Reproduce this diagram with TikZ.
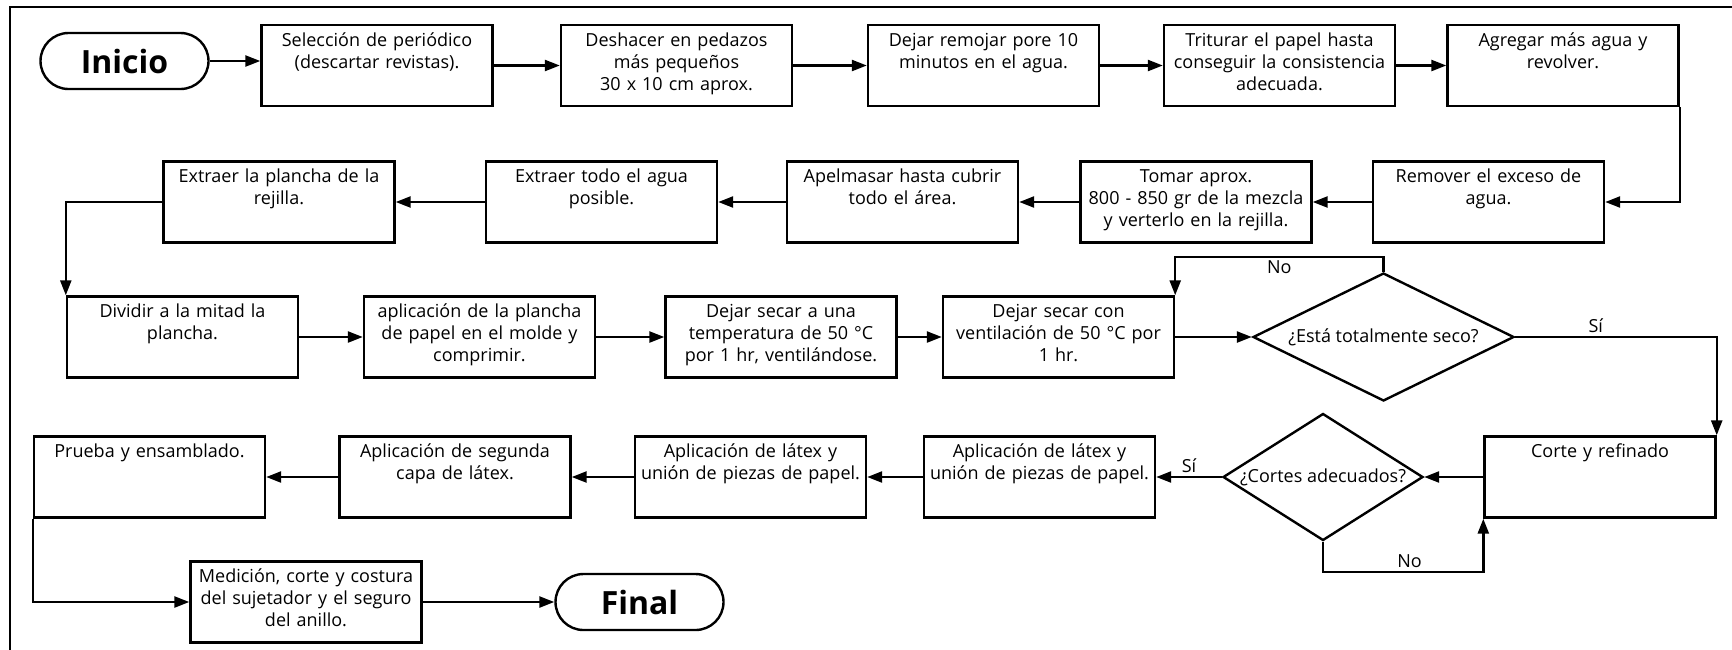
\documentclass[tikz,border=0pt]{standalone}
\usepackage{fontspec}
\setmainfont{Open Sans}
\usetikzlibrary{arrows.meta,shapes.geometric}

\begin{document}
\begin{tikzpicture}[x=0.5pt,y=-0.5pt]
\tikzset{every node/.style={font=\fontsize{9}{11}\selectfont}}
\tikzset{paso/.style={draw,line width=1.2pt,minimum width=115.5pt,text width=115.5pt,align=center,inner xsep=0pt,inner ysep=2pt,text height=8.5pt,text depth=28pt}}
\tikzset{decision/.style={draw,diamond,line width=1.2pt,inner sep=0pt}}
\tikzset{extremo/.style={draw,line width=1.2pt,rounded corners=14pt,minimum width=84pt,minimum height=28pt,font=\fontsize{16}{19}\selectfont\bfseries}}
\tikzset{flecha/.style={line width=1.2pt,-{Triangle[length=7.5pt,width=5.5pt]}}}
\tikzset{etiqueta/.style={inner sep=1.5pt}}

\useasboundingbox (0,0) rectangle (1732,649);
\draw[line width=1.2pt] (10,7) rectangle (1760,680);

\node[extremo] (ini) at (124.5,61) {Inicio};
\node[paso] (b1) at (377,65.5) {Selección de periódico\\(descartar revistas).};
\node[paso] (b2) at (676.5,65.5) {Deshacer en pedazos\\más pequeños\\30 x 10 cm aprox.};
\node[paso] (b3) at (983.5,65.5) {Dejar remojar pore 10\\minutos en el agua.};
\node[paso] (b4) at (1279.5,65.5) {Triturar el papel hasta\\conseguir la consistencia\\adecuada.};
\node[paso] (b5) at (1563,65.5) {Agregar más agua y\\revolver.};

\node[paso] (rem) at (1488.5,202) {Remover el exceso de\\agua.};
\node[paso] (tom) at (1196,202) {Tomar aprox.\\800 - 850 gr de la mezcla\\y verterlo en la rejilla.};
\node[paso] (apel) at (902.5,202) {Apelmasar hasta cubrir\\todo el área.};
\node[paso] (ext2) at (601.5,202) {Extraer todo el agua\\posible.};
\node[paso] (ext1) at (279,202) {Extraer la plancha de la\\rejilla.};

\node[paso] (div) at (182.5,337) {Dividir a la mitad la\\plancha.};
\node[paso] (apl) at (479.5,337) {aplicación de la plancha\\de papel en el molde y\\comprimir.};
\node[paso] (sec1) at (781,337) {Dejar secar a una\\temperatura de 50 °C\\por 1 hr, ventilándose.};
\node[paso] (sec2) at (1058.5,337) {Dejar secar con\\ventilación de 50 °C por\\1 hr.};
\node[decision,minimum width=130.5pt,minimum height=64pt] (d1) at (1383.5,337) {\makebox[0pt]{¿Está totalmente seco?}};

\node[paso] (cor) at (1600,477) {Corte y refinado};
\node[decision,minimum width=100pt,minimum height=63.5pt] (d2) at (1323,477) {\makebox[0pt]{¿Cortes adecuados?}};
\node[paso] (lat2) at (1039.5,477) {Aplicación de látex y\\unión de piezas de papel.};
\node[paso] (lat1) at (750.5,477) {Aplicación de látex y\\unión de piezas de papel.};
\node[paso] (seg) at (455,477) {Aplicación de segunda\\capa de látex.};
\node[paso] (pru) at (149.5,477) {Prueba y ensamblado.};

\node[paso] (med) at (306,602) {Medición, corte y costura\\del sujetador y el seguro\\del anillo.};
\node[extremo] (fin) at (639.5,602) {Final};

\draw[flecha] (ini.east) -- (ini.east -| b1.west);
\draw[flecha] (b1.east) -- (b2.west);
\draw[flecha] (b2.east) -- (b3.west);
\draw[flecha] (b3.east) -- (b4.west);
\draw[flecha] (b4.east) -- (b5.west);
\draw[flecha] (b5.south east) |- (rem.east);
\draw[flecha] (rem.west) -- (tom.east);
\draw[flecha] (tom.west) -- (apel.east);
\draw[flecha] (apel.west) -- (ext2.east);
\draw[flecha] (ext2.west) -- (ext1.east);
\draw[flecha] (ext1.west) -| (div.north west);
\draw[flecha] (div.east) -- (apl.west);
\draw[flecha] (apl.east) -- (sec1.west);
\draw[flecha] (sec1.east) -- (sec2.west);
\draw[flecha] (sec2.east) -- (d1.west);
\draw[flecha] (d1.north) -- ++(0,-15) -| (sec2.north east) node[etiqueta,pos=0.25,below] (no1) {No};
\draw[flecha] (d1.east) -| (cor.north east) node[etiqueta,pos=0.2,above] (si1) {Sí};
\draw[flecha] (cor.west) -- (d2.east);
\draw[flecha] (d2.south) -- ++(0,30) -| (cor.south west) node[etiqueta,pos=0.27,above] (no2) {No};
\draw[flecha] (d2.west) -- (lat2.east) node[etiqueta,midway,above] (si2) {Sí};
\draw[flecha] (lat2.west) -- (lat1.east);
\draw[flecha] (lat1.west) -- (seg.east);
\draw[flecha] (seg.west) -- (pru.east);
\draw[flecha] (pru.south west) |- (med.west);
\draw[flecha] (med.east) -- (fin.west);

\end{tikzpicture}
\end{document}
